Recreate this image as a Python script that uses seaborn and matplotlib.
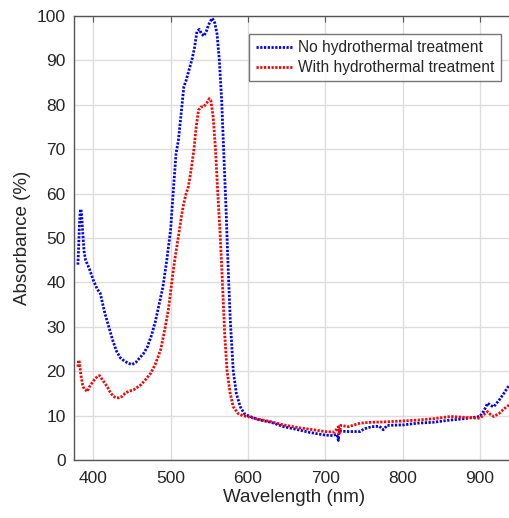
import matplotlib
matplotlib.use("Agg")
import matplotlib.pyplot as plt
import seaborn as sns
import pandas as pd

blue_wl = [380, 381, 382, 383, 384, 385, 386, 388, 390, 395, 400, 405, 409, 415, 420, 425, 430, 435, 440, 445,
           450, 455, 460, 465, 470, 475, 480, 485, 490, 495, 500, 504, 507, 510, 513, 517, 520, 524, 528, 531,
           534, 537, 540, 543, 546, 549, 552, 554, 557, 560, 563, 566, 569, 572, 574, 577, 581, 585, 590, 595,
           600, 607, 615, 630, 646, 660, 680, 700, 710, 715, 717, 718, 720, 730, 745, 750, 760, 770, 775, 780,
           801, 820, 840, 862, 880, 900, 905, 910, 915, 918, 925, 931, 938]
blue_abs = [44, 48, 53, 56, 56.5, 55, 52, 47, 45, 43, 40.5, 38.5, 37.5, 33, 30, 27, 24.5, 23, 22.3, 21.8,
            21.5, 22, 23, 24, 25.5, 28, 31, 35, 39, 45, 52, 62, 69, 72, 77, 84, 85.5, 88, 90.5, 93,
            96.5, 97, 96, 95.5, 96.5, 98, 99, 99.5, 98.5, 96, 90, 81, 68, 55, 45, 32, 20, 15, 12, 10.5,
            10, 9.5, 9, 8.5, 7.5, 7, 6.2, 5.6, 5.5, 5.8, 4.4, 7, 6.5, 6.4, 6.4, 7, 7.5, 7.6, 6.8, 7.8,
            7.9, 8.3, 8.5, 9, 9.3, 9.8, 11, 12.8, 12.2, 12, 13.5, 15, 16.9]

red_wl = [380, 381, 382, 384, 386, 388, 390, 392, 395, 400, 405, 408, 412, 418, 422, 426, 430, 433, 437, 441,
          446, 452, 458, 462, 468, 474, 480, 487, 492, 497, 500, 504, 507, 510, 514, 517, 520, 523, 527, 530,
          533, 536, 539, 543, 547, 550, 552, 555, 558, 561, 564, 567, 570, 573, 577, 581, 587, 593, 599, 610,
          625, 646, 665, 685, 700, 712, 717, 718, 720, 730, 745, 760, 780, 801, 820, 840, 862, 880, 900, 905,
          910, 914, 918, 925, 931, 938]
red_abs = [21, 22.5, 22, 19, 17, 16, 15.8, 15.4, 16.5, 17.8, 18.8, 19, 18, 16.5, 15.2, 14.3, 14, 14, 14.3, 15,
           15.5, 15.8, 16.5, 17, 18.2, 19.5, 21.5, 24.8, 29, 33.8, 38, 43.5, 47, 50.3, 55, 57.8, 60, 61.6, 66, 69.8,
           75, 78.8, 79.5, 79.6, 80.5, 81.4, 81, 77.3, 70, 60, 51, 40, 28, 20, 15, 12, 10.5, 10, 9.8, 9.3,
           8.8, 7.9, 7.3, 6.8, 6.4, 6.3, 7.5, 6, 7.8, 7.5, 8.3, 8.5, 8.6, 8.8, 9, 9.3, 9.8, 9.6, 9.4, 10.2,
           10.9, 10.2, 9.8, 10.5, 11.5, 12.4]

labels = ["No hydrothermal treatment", "With hydrothermal treatment"]
x_ticks = [400, 500, 600, 700, 800, 900]
y_ticks = [0, 10, 20, 30, 40, 50, 60, 70, 80, 90, 100]

df = pd.concat([
    pd.DataFrame({"wl": blue_wl, "abs": blue_abs, "series": labels[0]}),
    pd.DataFrame({"wl": red_wl, "abs": red_abs, "series": labels[1]}),
])

sns.set_style("white")
plt.rcParams["font.family"] = ["Liberation Sans", "DejaVu Sans"]

fig = plt.figure(figsize=(5.09, 5.18), dpi=100)
ax = fig.add_axes([0.1454, 0.112, 0.8657, 0.857])

DASH = (0.8, 0.55)
sns.lineplot(data=df, x="wl", y="abs", hue="series", palette=["#0000ff", "#ff0000"],
             linewidth=2.0, ax=ax, sort=False)
for ln in ax.get_lines():
    ln.set_dashes(DASH)
    ln.set_dash_capstyle("butt")

ax.set_xlim(375, 945)
ax.set_ylim(0, 100)
ax.set_xticks(x_ticks)
ax.set_yticks(y_ticks)
ax.grid(True, color="#dddddd", linewidth=1.0)
ax.set_axisbelow(True)
for s in ["left", "top", "bottom", "right"]:
    ax.spines[s].set_color("#555555")
    ax.spines[s].set_linewidth(1.0)
ax.tick_params(direction="in", top=True, right=True, length=4, color="#555555",
               labelsize=12.5, labelcolor="#262626")
ax.tick_params(axis="x", pad=8)
ax.tick_params(axis="y", pad=6)
ax.set_xlabel("Wavelength (nm)", fontsize=13.5, color="#262626", labelpad=2)
ax.set_ylabel("Absorbance (%)", fontsize=13.5, color="#262626", labelpad=4)

leg = ax.legend(loc="upper right", bbox_to_anchor=(0.969, 0.959), fontsize=11.2,
                frameon=True, fancybox=False, handlelength=2.4, handletextpad=0.35,
                borderpad=0.4, labelspacing=0.3, borderaxespad=0)
leg.get_frame().set_edgecolor("#555555")
leg.get_frame().set_linewidth(1.0)
for t in leg.get_texts():
    t.set_color("#262626")
for h in leg.get_lines():
    h.set_dashes(DASH)
    h.set_dash_capstyle("butt")

fig.savefig("out.png", dpi=100)
